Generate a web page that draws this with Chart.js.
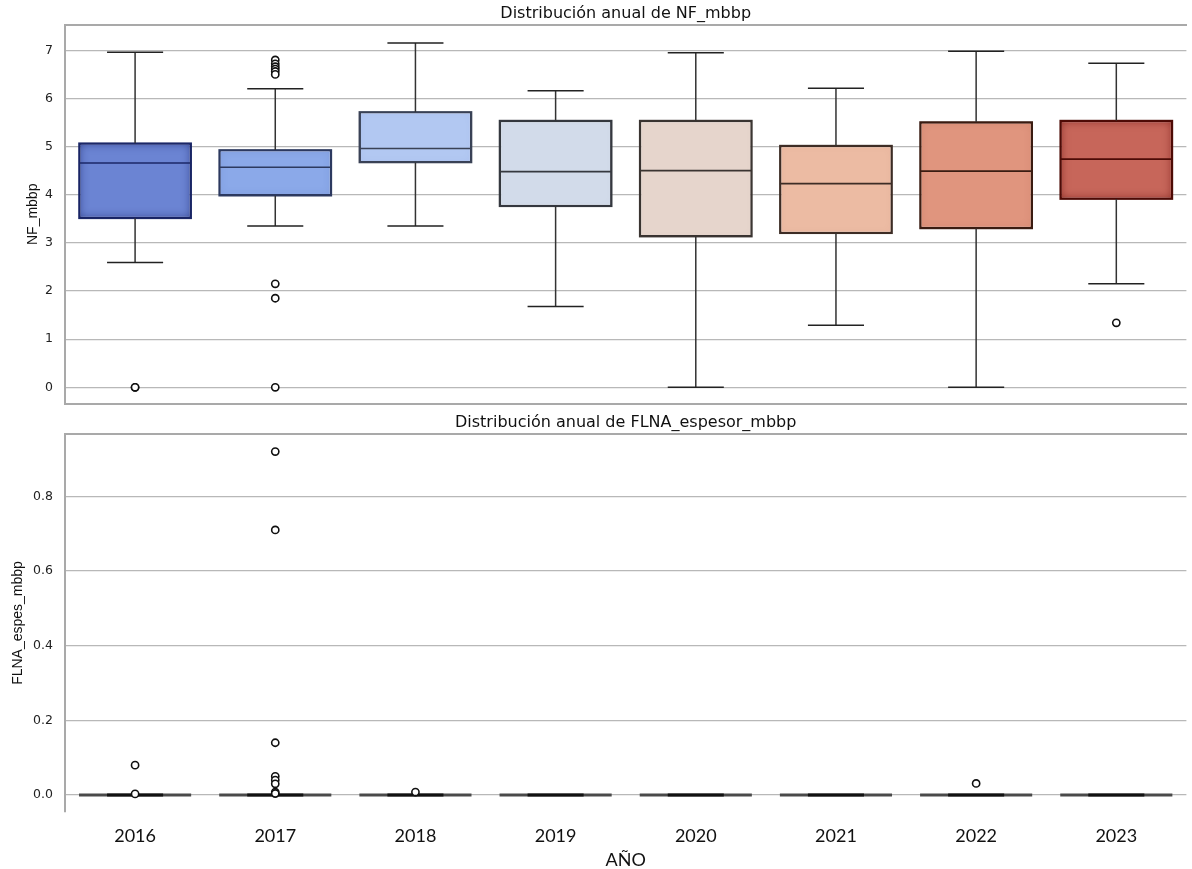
<!DOCTYPE html>
<html>
<head>
<meta charset="utf-8">
<script src="https://cdn.jsdelivr.net/npm/chart.js@4.4.1/dist/chart.umd.min.js"></script>
<style>
  html, body { margin: 0; padding: 0; background: #ffffff; }
  #wrap { position: relative; width: 1192px; height: 869px; overflow: hidden; background: #ffffff; }
  #nfChart { position: absolute; left: 0; top: 0; }
  #flChart { position: absolute; left: 0; top: 410px; }
</style>
</head>
<body>
<div id="wrap">
  <canvas id="nfChart" width="1192" height="410"></canvas>
  <canvas id="flChart" width="1192" height="459"></canvas>
</div>
<script>
// Years on the shared category axis
const years = ['2016', '2017', '2018', '2019', '2020', '2021', '2022', '2023'];

// NF_mbbp: box statistics per year
const nfWhiskerLow  = [2.59, 3.35, 3.35, 1.68, 0.00, 1.29, 0.00, 2.15];
const nfQ1          = [3.51, 3.98, 4.67, 3.76, 3.13, 3.20, 3.30, 3.91];
const nfMedian      = [4.66, 4.57, 4.96, 4.48, 4.50, 4.23, 4.49, 4.74];
const nfQ3          = [5.07, 4.93, 5.72, 5.54, 5.54, 5.02, 5.51, 5.54];
const nfWhiskerHigh = [6.96, 6.20, 7.15, 6.16, 6.95, 6.21, 6.98, 6.73];
const nfOutliers    = [
  [0.00, 0.00],
  [6.80, 6.72, 6.66, 6.61, 6.56, 6.50, 2.15, 1.85, 0.00],
  [], [], [], [], [],
  [1.34]
];
const nfTicks = [0, 1, 2, 3, 4, 5, 6, 7];

// FLNA_espesor_mbbp: box statistics per year (all collapse to zero)
const flWhiskerLow  = [0, 0, 0, 0, 0, 0, 0, 0];
const flQ1          = [0, 0, 0, 0, 0, 0, 0, 0];
const flMedian      = [0, 0, 0, 0, 0, 0, 0, 0];
const flQ3          = [0, 0, 0, 0, 0, 0, 0, 0];
const flWhiskerHigh = [0, 0, 0, 0, 0, 0, 0, 0];
const flOutliers    = [
  [0.080, 0.003],
  [0.920, 0.710, 0.140, 0.050, 0.040, 0.030, 0.008, 0.004],
  [0.008],
  [], [], [],
  [0.031],
  []
];
const flTicks = [0.0, 0.2, 0.4, 0.6, 0.8];

// Box styling (coolwarm-like palette)
const boxFill = ['#6b84d3', '#8ba9e9', '#b2c8f2', '#d2dbea', '#e6d5cc', '#ecbba3', '#e0957e', '#c7665a'];
const boxEdge = ['#1b2767', '#2d3a60', '#3a4256', '#35383f', '#3a3431', '#3d2d26', '#3a1c12', '#4d0b06'];
const boxGlow = ['rgba(15,25,95,0.8)', 'rgba(30,50,120,0.35)', 'rgba(40,60,120,0.2)', 'rgba(60,70,90,0.15)',
                 'rgba(90,70,60,0.15)', 'rgba(110,60,40,0.2)', 'rgba(120,40,20,0.35)', 'rgba(90,5,0,0.8)'];

const GRID = '#b8b8b8';
const SPINE = '#a9a9a9';

function outlierPoints(list) {
  const pts = [];
  list.forEach((vals, i) => vals.forEach(v => pts.push({ x: years[i], y: v })));
  return pts;
}

// Draws whiskers, caps, medians and an inner shade on each box, using the chart's scales
const boxWhiskers = {
  id: 'boxWhiskers',
  afterDatasetDraw(chart, args, opts) {
    if (args.meta.type !== 'bar') return;
    const ctx = chart.ctx;
    const ys = chart.scales.y;
    args.meta.data.forEach((bar, i) => {
      const { x, width } = bar.getProps(['x', 'width'], true);
      const half = width / 2;
      const capHalf = width / 4;
      const yLo = ys.getPixelForValue(opts.lo[i]);
      const yQ1 = ys.getPixelForValue(opts.q1[i]);
      const yMed = ys.getPixelForValue(opts.med[i]);
      const yQ3 = ys.getPixelForValue(opts.q3[i]);
      const yHi = ys.getPixelForValue(opts.hi[i]);
      const h = yQ1 - yQ3;
      ctx.save();
      if (h > 1) {
        // inner shade along the box edges
        ctx.save();
        ctx.beginPath();
        ctx.rect(x - half, yQ3, width, h);
        ctx.clip();
        ctx.shadowColor = boxGlow[i];
        ctx.shadowBlur = 10;
        ctx.lineWidth = 8;
        ctx.strokeStyle = boxGlow[i];
        ctx.strokeRect(x - half - 4, yQ3 - 4, width + 8, h + 8);
        ctx.restore();
        ctx.lineWidth = 1.6;
        ctx.strokeStyle = boxEdge[i];
        ctx.strokeRect(x - half, yQ3, width, h);
      }
      ctx.lineCap = 'butt';
      // whiskers
      ctx.strokeStyle = opts.whiskerColor;
      ctx.lineWidth = opts.whiskerWidth;
      ctx.beginPath();
      ctx.moveTo(x, yQ1); ctx.lineTo(x, yLo);
      ctx.moveTo(x, yQ3); ctx.lineTo(x, yHi);
      ctx.stroke();
      // median
      ctx.strokeStyle = opts.medianColor || boxEdge[i];
      ctx.lineWidth = opts.medianWidth;
      ctx.beginPath();
      ctx.moveTo(x - half, yMed); ctx.lineTo(x + half, yMed);
      ctx.stroke();
      // caps
      ctx.strokeStyle = opts.capColor;
      ctx.lineWidth = opts.capWidth;
      ctx.beginPath();
      ctx.moveTo(x - capHalf, yLo); ctx.lineTo(x + capHalf, yLo);
      ctx.moveTo(x - capHalf, yHi); ctx.lineTo(x + capHalf, yHi);
      ctx.stroke();
      ctx.restore();
    });
  }
};

function makeChart(canvasId, cfg) {
  const boxes = years.map((_, i) => [cfg.q1[i], cfg.q3[i]]);
  return new Chart(document.getElementById(canvasId), {
    type: 'bar',
    data: {
      labels: years,
      datasets: [
        {
          type: 'bar',
          data: boxes,
          xAxisID: 'x', yAxisID: 'y',
          backgroundColor: boxFill,
          borderColor: boxEdge,
          borderWidth: 1.6,
          borderSkipped: false,
          barPercentage: 0.8,
          categoryPercentage: 1.0,
          order: 1
        },
        {
          type: 'scatter',
          data: outlierPoints(cfg.outliers),
          xAxisID: 'x', yAxisID: 'y',
          pointStyle: 'circle',
          pointRadius: 3.6,
          pointBorderWidth: 1.6,
          borderColor: '#111111',
          backgroundColor: '#ffffff',
          showLine: false,
          order: 0
        }
      ]
    },
    options: {
      responsive: false,
      animation: false,
      events: [],
      layout: { padding: 0 },
      plugins: {
        legend: { display: false },
        tooltip: { enabled: false },
        title: {
          display: true,
          text: cfg.title,
          fullSize: false,
          color: '#111111',
          font: { family: 'DejaVu Sans', size: 16, weight: 'normal' },
          padding: cfg.titlePadding
        },
        boxWhiskers: {
          lo: cfg.lo, q1: cfg.q1, med: cfg.med, q3: cfg.q3, hi: cfg.hi,
          whiskerColor: '#333333', whiskerWidth: 1.5,
          capColor: cfg.capColor, capWidth: cfg.capWidth,
          medianColor: cfg.medianColor, medianWidth: cfg.medianWidth
        }
      },
      scales: {
        x: {
          type: 'category',
          position: 'bottom',
          offset: true,
          grid: { display: false, drawTicks: false },
          border: { display: cfg.bottomSpine, color: SPINE, width: 2 },
          ticks: {
            display: cfg.showYears,
            color: '#111111',
            padding: 13,
            font: { family: 'Lato', size: 18 }
          },
          title: {
            display: cfg.showYears,
            text: 'AÑO',
            color: '#111111',
            font: { family: 'Lato', size: 18, lineHeight: 1.0 },
            padding: { top: 0, bottom: 0 }
          },
          afterFit: s => { s.height = cfg.xHeight; s.paddingLeft = 0; s.paddingRight = 0; }
        },
        xTop: {
          type: 'category',
          labels: years,
          position: 'top',
          offset: true,
          grid: { display: false, drawTicks: false },
          border: { display: true, color: SPINE, width: 2 },
          ticks: { display: false },
          afterFit: s => { s.height = 0; s.paddingLeft = 0; s.paddingRight = 0; }
        },
        y: {
          type: 'linear',
          min: cfg.yMin,
          max: cfg.yMax,
          grid: { color: GRID, lineWidth: 1.2, drawTicks: false },
          border: { display: true, color: SPINE, width: 2 },
          ticks: {
            color: '#222222',
            padding: 12,
            font: { family: 'DejaVu Sans', size: 12.5 },
            callback: cfg.tickFormat
          },
          title: {
            display: true,
            text: cfg.yTitle,
            color: '#111111',
            font: { family: 'Liberation Sans', size: 14 },
            padding: { top: cfg.yTitlePad, bottom: 0 }
          },
          afterBuildTicks: s => { s.ticks = cfg.ticks.map(v => ({ value: v })); },
          afterFit: s => { s.width = 65; s.paddingTop = 0; s.paddingBottom = 0; }
        }
      }
    },
    plugins: [boxWhiskers]
  });
}

makeChart('nfChart', {
  title: 'Distribución anual de NF_mbbp',
  titlePadding: { top: 4, bottom: 1.4 },
  lo: nfWhiskerLow, q1: nfQ1, med: nfMedian, q3: nfQ3, hi: nfWhiskerHigh,
  outliers: nfOutliers,
  ticks: nfTicks,
  tickFormat: v => String(v),
  yMin: -0.347, yMax: 7.534,
  yTitle: 'NF_mbbp', yTitlePad: 24.6,
  showYears: false, bottomSpine: true, xHeight: 6,
  capColor: '#222222', capWidth: 1.5,
  medianColor: null, medianWidth: 1.6
});

makeChart('flChart', {
  title: 'Distribución anual de FLNA_espesor_mbbp',
  titlePadding: { top: 3, bottom: 1.8 },
  lo: flWhiskerLow, q1: flQ1, med: flMedian, q3: flQ3, hi: flWhiskerHigh,
  outliers: flOutliers,
  ticks: flTicks,
  tickFormat: v => v.toFixed(1),
  yMin: -0.0455, yMax: 0.967,
  yTitle: 'FLNA_espes_mbbp', yTitlePad: 9.6,
  showYears: true, bottomSpine: false, xHeight: 57,
  capColor: '#111111', capWidth: 3,
  medianColor: '#4a4a4a', medianWidth: 3
});
</script>
</body>
</html>
